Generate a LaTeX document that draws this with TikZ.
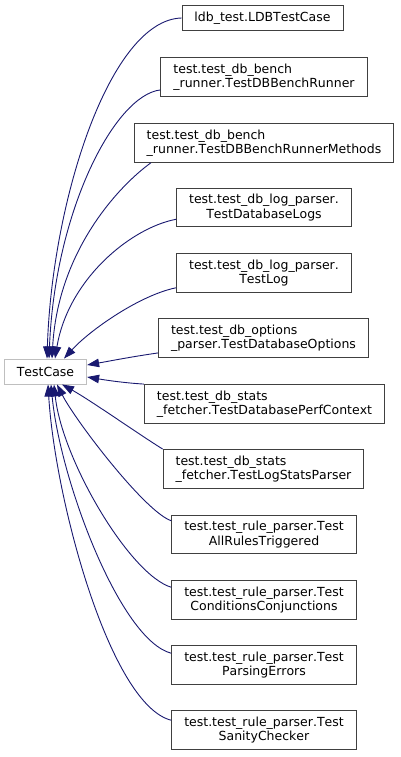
\documentclass[tikz,border=0pt]{standalone}
\usepackage{fontspec}
\setmainfont[Kerning=Off]{DejaVu Sans}
\usepackage{xcolor}
\usepackage{tikz}
\usetikzlibrary{arrows.meta}
\definecolor{edgeblue}{HTML}{191970}
\definecolor{boxgray}{HTML}{404040}
\definecolor{basegray}{HTML}{BFBFBF}

\tikzset{
  cls/.style={draw=boxgray, line width=0.9pt, inner xsep=12.5pt, inner ysep=6pt,
              font=\fontsize{12.5}{14.5}\selectfont},
  clsone/.style={cls, minimum height=25pt, inner ysep=2pt},
  basecls/.style={clsone, draw=basegray},
  edge/.style={draw=edgeblue, line width=0.9pt,
               -{Triangle[length=12pt, width=8.5pt]}, fill=none},
}

\begin{document}
\begin{tikzpicture}[x=1pt, y=-1pt]
  \useasboundingbox (0,0) rectangle (400,757);

  \node[basecls] (base) at (45.5,371.5) {TestCase};

  \node[clsone] (ldb) at (262.5,18) {ldb\_test.LDBTestCase};
  \node[cls, align=left] (runner) at (264,77)
    {test.test\_db\_bench\\\_runner.TestDBBenchRunner};
  \node[cls, align=left] (methods) at (264,143)
    {test.test\_db\_bench\\\_runner.TestDBBenchRunnerMethods};
  \node[cls, align=center] (dblogs) at (264,207.5)
    {test.test\_db\_log\_parser.\\TestDatabaseLogs};
  \node[cls, align=center] (testlog) at (264,273)
    {test.test\_db\_log\_parser.\\TestLog};
  \node[cls, align=left] (dbopts) at (263.5,338)
    {test.test\_db\_options\\\_parser.TestDatabaseOptions};
  \node[cls, align=left] (perfctx) at (264.5,404)
    {test.test\_db\_stats\\\_fetcher.TestDatabasePerfContext};
  \node[cls, align=left] (statsparser) at (263.5,469)
    {test.test\_db\_stats\\\_fetcher.TestLogStatsParser};
  \node[cls, align=center] (allrules) at (264,534.5)
    {test.test\_rule\_parser.Test\\AllRulesTriggered};
  \node[cls, align=center] (conj) at (264,600)
    {test.test\_rule\_parser.Test\\ConditionsConjunctions};
  \node[cls, align=center] (parsing) at (264,665)
    {test.test\_rule\_parser.Test\\ParsingErrors};
  \node[cls, align=center] (sanity) at (264,730)
    {test.test\_rule\_parser.Test\\SanityChecker};

  % inheritance edges, child -> TestCase
  \draw[edge] (ldb.west) .. controls (110,20) and (52,200) .. ([xshift=1.5pt]base.north);
  \draw[edge] ([yshift=7pt]runner.south west) .. controls (115,95) and (55,210) .. ([xshift=3.5pt]base.north);
  \draw[edge] ([xshift=17pt]methods.south west) .. controls (120,185) and (58,250) .. ([xshift=6.5pt]base.north);
  \draw[edge] ([yshift=8pt]dblogs.south west) .. controls (130,228) and (68,280) .. ([xshift=9.5pt]base.north);
  \draw[edge] ([yshift=5pt]testlog.south west) .. controls (140,295) and (90,330) .. ([xshift=18.5pt]base.north);
  \draw[edge] ([yshift=5pt]dbopts.south west) .. controls (130,357) and (110,361) .. ([yshift=6.5pt]base.east);
  \draw[edge] (perfctx.north west) .. controls (125,383) and (105,380) .. ([yshift=-5.5pt]base.east);
  \draw[edge] (statsparser.north west) .. controls (140,435) and (90,400) .. ([xshift=16.5pt]base.south);
  \draw[edge] ([yshift=-6pt]allrules.north west) .. controls (145,512) and (75,420) .. ([xshift=11.5pt]base.south);
  \draw[edge] ([yshift=-7pt]conj.north west) .. controls (130,575) and (62,460) .. ([xshift=8.5pt]base.south);
  \draw[edge] ([yshift=-8pt]parsing.north west) .. controls (120,640) and (60,480) .. ([xshift=5.5pt]base.south);
  \draw[edge] ([yshift=-10pt]sanity.north west) .. controls (110,705) and (55,500) .. ([xshift=2.5pt]base.south);
\end{tikzpicture}
\end{document}
